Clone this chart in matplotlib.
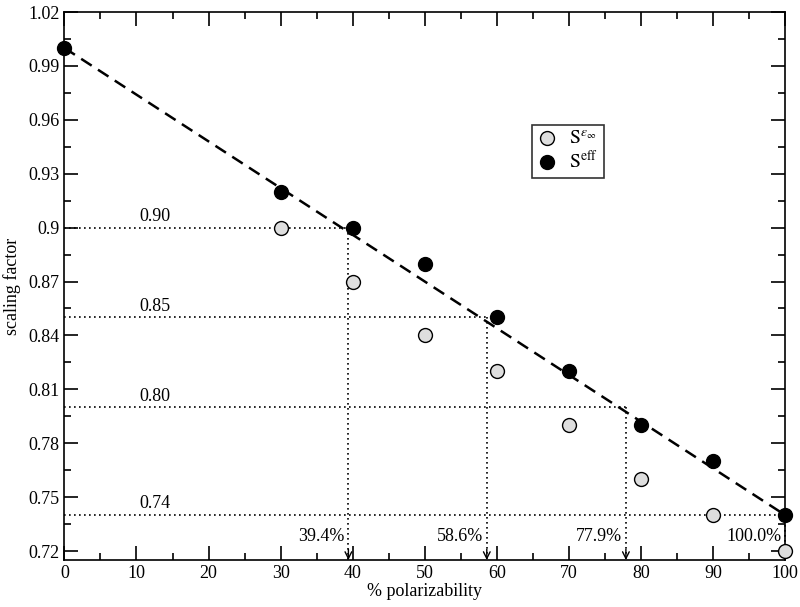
import numpy as np
import matplotlib
matplotlib.use("Agg")
import matplotlib.pyplot as plt
from matplotlib.ticker import MultipleLocator

plt.rcParams['font.family'] = ['Liberation Serif', 'DejaVu Serif']
plt.rcParams['mathtext.fontset'] = 'stix'

# data
pol_eps = [30, 40, 50, 60, 70, 80, 90, 100]
s_eps = [0.90, 0.87, 0.84, 0.82, 0.79, 0.76, 0.74, 0.72]
pol_eff = [0, 30, 40, 50, 60, 70, 80, 90, 100]
s_eff = [1.00, 0.92, 0.90, 0.88, 0.85, 0.82, 0.79, 0.77, 0.74]
fit_x = [0, 100]
fit_y = [1.00, 0.74]
levels = [0.90, 0.85, 0.80, 0.74]
crossings = [39.4, 58.6, 77.9, 100.0]

y_bottom = 0.715

fig = plt.figure(figsize=(8, 6.07), dpi=100)
ax = fig.add_axes([0.0805, 0.0774, 0.901, 0.9028])

ax.plot(fit_x, fit_y, color='black', lw=1.8, ls=(0, (5, 3)), zorder=2)

for lv, cx in zip(levels, crossings):
    ax.plot([0, cx], [lv, lv], color='black', lw=1.2, ls=(0, (1, 2)), zorder=1)
    ax.plot([cx, cx], [lv, y_bottom], color='black', lw=1.2, ls=(0, (1, 2)),
            zorder=1, clip_on=False)
    ax.annotate('', xy=(cx, y_bottom), xytext=(cx, y_bottom + 0.006),
                arrowprops=dict(arrowstyle='->', color='black', lw=1.0,
                                mutation_scale=12, shrinkA=0, shrinkB=0),
                annotation_clip=False)
    ax.text(12.5, lv + 0.0015, '%.2f' % lv, fontsize=13, ha='center', va='bottom')
    ax.text(cx - 0.5, 0.7235, '%.1f%%' % cx, fontsize=13, ha='right', va='bottom')

ax.plot(pol_eps, s_eps, 'o', ms=10, mfc='#dedede', mec='black', mew=1.0,
        ls='none', zorder=4, label=r'$\mathrm{S}^{\varepsilon_\infty}$', clip_on=False)
ax.plot(pol_eff, s_eff, 'o', ms=10, mfc='black', mec='black',
        ls='none', zorder=4, label=r'$\mathrm{S}^{\mathrm{eff}}$', clip_on=False)

ax.set_xlim(0, 100)
ax.set_ylim(y_bottom, 1.02)
ax.xaxis.set_major_locator(MultipleLocator(10))
ax.xaxis.set_minor_locator(MultipleLocator(5))
yt = [0.72, 0.75, 0.78, 0.81, 0.84, 0.87, 0.9, 0.93, 0.96, 0.99, 1.02]
ax.set_yticks(yt)
ax.set_yticklabels(['0.72', '0.75', '0.78', '0.81', '0.84', '0.87', '0.9',
                    '0.93', '0.96', '0.99', '1.02'])
ax.set_yticks([v + 0.015 for v in yt[:-1]], minor=True)
ax.tick_params(which='both', direction='in', top=True, right=True, labelsize=13)
ax.tick_params(which='major', length=10, width=1.2)
ax.tick_params(which='minor', length=5, width=1.2)
for sp in ax.spines.values():
    sp.set_linewidth(1.2)

ax.set_xlabel('% polarizability', fontsize=13, labelpad=1)
ax.set_ylabel('scaling factor', fontsize=13, labelpad=5)

leg = ax.legend(loc='upper left', bbox_to_anchor=(0.649, 0.794), fontsize=14,
                frameon=True, fancybox=False, edgecolor='black',
                handlelength=0.9, handletextpad=0.7, borderpad=0.3,
                labelspacing=0.1, borderaxespad=0)
leg.get_frame().set_linewidth(1.2)

fig.savefig('out.png', dpi=100)
